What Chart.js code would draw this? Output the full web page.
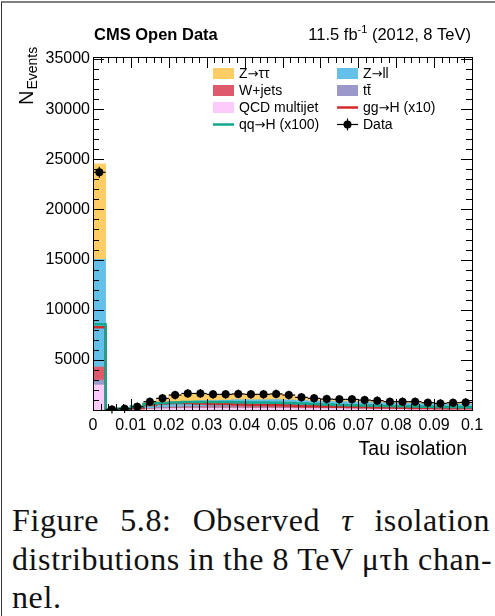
<!DOCTYPE html>
<html>
<head>
<meta charset="utf-8">
<script src="https://cdn.jsdelivr.net/npm/chart.js@4/dist/chart.umd.min.js"></script>
<style>
  html, body { margin: 0; padding: 0; background: #fff; }
  #page { position: relative; width: 495px; height: 616px; overflow: hidden; }
  #box { position: absolute; left: 1px; top: 1px; width: 520px; height: 640px; border-top: 2px solid #808080; border-left: 1px solid #333; }
  #wrap { position: absolute; left: 0; top: 0; width: 495px; height: 480px; }
  .cap { position: absolute; left: 12px; width: 478px; font-family: "Liberation Serif", serif; font-size: 32px; letter-spacing: 0.6px; line-height: 1; white-space: nowrap; color: #111; }
  .just { text-align: justify; text-align-last: justify; }
</style>
</head>
<body>
<div id="page">
  <div id="box"></div>
  <div id="wrap"><canvas id="chart" width="495" height="480"></canvas></div>
  <div class="cap just" style="top:504px">Figure 5.8: Observed <i>τ</i> isolation</div>
  <div class="cap just" style="top:543px">distributions in the 8 TeV μτh chan-</div>
  <div class="cap" style="top:581px">nel.</div>
</div>
<script>
// binning of the tau isolation histogram
const binCount = 30;
const xRange = [0, 0.1];
const xTicks = [0, 0.01, 0.02, 0.03, 0.04, 0.05, 0.06, 0.07, 0.08, 0.09, 0.1];
const yTicks = [5000, 10000, 15000, 20000, 25000, 30000, 35000];
const yMax = 35200;

// observed events per bin
const dataCounts = [23700, 60, 120, 330, 830, 1160, 1490, 1650, 1650, 1560, 1560, 1600, 1560, 1560, 1600,
                    1490, 1260, 1160, 1090, 1060, 1060, 990, 930, 830, 830, 830, 730, 660, 730, 760];

// stacked backgrounds (bottom to top)
const qcd   = [2490, 0, 0, 30, 80, 120, 150, 170, 180, 180, 180, 180, 170, 170, 170,
               160, 150, 150, 140, 140, 130, 130, 120, 120, 110, 110, 100, 100, 100, 100];
const ttbar = [500, 0, 0, 10, 20, 30, 40, 40, 40, 40, 40, 40, 40, 40, 40,
               40, 40, 40, 30, 30, 30, 30, 30, 30, 30, 30, 30, 30, 30, 30];
const wjets = [1300, 0, 0, 20, 60, 80, 100, 110, 110, 110, 110, 110, 110, 110, 110,
               100, 100, 100, 90, 90, 90, 90, 80, 80, 80, 80, 70, 70, 70, 70];
const zll   = [10730, 50, 100, 200, 350, 450, 500, 550, 600, 600, 650, 700, 700, 700, 720,
               700, 650, 600, 600, 580, 560, 540, 500, 460, 450, 440, 400, 380, 380, 380];
const ztt   = [9530, 20, 20, 80, 330, 480, 700, 780, 730, 630, 580, 570, 540, 540, 560,
               490, 320, 270, 230, 220, 250, 200, 200, 140, 160, 170, 130, 80, 150, 180];

// signal overlays (scaled)
const ggH = [8250, 30, 60, 200, 500, 650, 700, 700, 650, 600, 600, 550, 500, 500, 480,
             450, 400, 380, 350, 330, 300, 280, 260, 240, 220, 200, 200, 180, 180, 170];
const qqH = [8550, 100, 150, 350, 600, 700, 750, 800, 800, 800, 800, 780, 760, 740, 720,
             700, 650, 600, 550, 500, 480, 450, 420, 400, 380, 350, 330, 300, 300, 280];

const colors = {
    ztt: '#ffcc66', zll: '#64c0e8', wjets: '#de5a6a', ttbar: '#9b98cc', qcd: '#fccbfc',
    ggH: '#d42a2a', qqH: '#11a88e'
};

const binW = (xRange[1] - xRange[0]) / binCount;
const centers = dataCounts.map((_, i) => xRange[0] + (i + 0.5) * binW);
const edges = [];
for (let i = 0; i <= binCount; i++) edges.push(xRange[0] + i * binW);

const toXY = vals => vals.map((v, i) => ({ x: centers[i], y: v }));
// step outline: one point per bin edge, the last edge repeats the last bin
const toStep = vals => edges.map((e, i) => ({ x: e, y: vals[Math.min(i, vals.length - 1)] }));

function bar(label, vals, color) {
    return {
        type: 'bar', label: label, data: toXY(vals), backgroundColor: color,
        borderWidth: 0, stack: 'mc', order: 3, barPercentage: 1, categoryPercentage: 1
    };
}
function stepLine(label, vals, color, st, order) {
    // 'before' in Chart.js draws the horizontal part first, which is a histogram outline
    return {
        type: 'line', label: label, data: toStep(vals), borderColor: color, borderWidth: 2.5,
        stepped: 'before', pointRadius: 0, fill: false, stack: st, order: order
    };
}

const F = '"Liberation Sans", Arial, sans-serif';

function line(ctx, x1, y1, x2, y2) {
    ctx.beginPath(); ctx.moveTo(x1, y1); ctx.lineTo(x2, y2); ctx.stroke();
}

const rootStyle = {
    id: 'rootStyle',
    afterDatasetDraw(chart, args) {
        if (chart.data.datasets[args.index].label !== 'Data') return;
        const ctx = chart.ctx, xs = chart.scales.x, ys = chart.scales.y;
        ctx.save();
        ctx.strokeStyle = '#000'; ctx.lineWidth = 1.2;
        dataCounts.forEach((n, i) => {
            const y = ys.getPixelForValue(n);
            line(ctx, xs.getPixelForValue(edges[i]), y, xs.getPixelForValue(edges[i + 1]), y);
            const e = Math.sqrt(n);
            line(ctx, xs.getPixelForValue(centers[i]), ys.getPixelForValue(n - e) + 4,
                 xs.getPixelForValue(centers[i]), ys.getPixelForValue(n + e) - 4);
        });
        ctx.restore();
    },
    afterDraw(chart) {
        const ctx = chart.ctx, a = chart.chartArea, xs = chart.scales.x, ys = chart.scales.y;
        ctx.save();
        ctx.strokeStyle = '#000'; ctx.lineWidth = 1;
        // frame
        ctx.strokeRect(Math.round(a.left) + 0.5, Math.round(a.top) + 0.5,
                       Math.round(a.right - a.left), Math.round(a.bottom - a.top));
        // y ticks, inward on both sides
        const yStep = (yTicks[1] - yTicks[0]) / 5;
        for (let k = 0; k * yStep <= yMax; k++) {
            const y = Math.round(ys.getPixelForValue(k * yStep)) + 0.5;
            const len = k % 5 === 0 ? 11 : 6;
            line(ctx, a.left, y, a.left + len, y);
            line(ctx, a.right, y, a.right - len, y);
        }
        // x ticks, inward top and bottom
        const xStep = (xTicks[1] - xTicks[0]) / 5;
        for (let k = 0; k <= 50; k++) {
            const x = Math.round(xs.getPixelForValue(k * xStep)) + 0.5;
            const len = k % 5 === 0 ? 11 : 6;
            line(ctx, x, a.bottom, x, a.bottom - len);
            line(ctx, x, a.top, x, a.top + len);
        }

        ctx.fillStyle = '#000';
        ctx.textBaseline = 'alphabetic';
        // header
        ctx.font = 'bold 16.5px ' + F;
        ctx.textAlign = 'left';
        ctx.fillText('CMS Open Data', 94, 40);
        ctx.font = '16.5px ' + F;
        const t1 = '11.5 fb', t2 = '-1', t3 = ' (2012, 8 TeV)';
        const w3 = ctx.measureText(t3).width, w1 = ctx.measureText(t1).width;
        ctx.font = '11px ' + F;
        const w2 = ctx.measureText(t2).width;
        let x0 = 471 - w3 - w2 - w1;
        ctx.font = '16.5px ' + F;
        ctx.fillText(t1, x0, 40);
        ctx.fillText(t3, x0 + w1 + w2, 40);
        ctx.font = '11px ' + F;
        ctx.fillText(t2, x0 + w1, 33);

        // axis titles
        ctx.font = '19.5px ' + F;
        ctx.textAlign = 'right';
        ctx.fillText('Tau isolation', 467, 455);
        ctx.save();
        ctx.translate(33, 105);
        ctx.rotate(-Math.PI / 2);
        ctx.textAlign = 'left';
        ctx.font = '20px ' + F;
        ctx.fillText('N', 0, 0);
        const wn = ctx.measureText('N').width;
        ctx.font = '14px ' + F;
        ctx.fillText('Events', wn + 1, 4);
        ctx.restore();

        // legend
        const rows = [73.5, 90.5, 107.5, 124.5];
        const cols = [213, 337];
        const entries = [
            [0, 0, 'box', colors.ztt, 'Z\u2192\u03c4\u03c4'],
            [1, 0, 'box', colors.zll, 'Z\u2192ll'],
            [0, 1, 'box', colors.wjets, 'W+jets'],
            [1, 1, 'box', colors.ttbar, 't' + 't\u0304'],
            [0, 2, 'box', colors.qcd, 'QCD multijet'],
            [1, 2, 'line', colors.ggH, 'gg\u2192H (x10)'],
            [0, 3, 'line', colors.qqH, 'qq\u2192H (x100)'],
            [1, 3, 'data', '#000', 'Data']
        ];
        ctx.textAlign = 'left';
        ctx.textBaseline = 'middle';
        entries.forEach(([c, r, kind, col, txt]) => {
            const x = cols[c], y = rows[r];
            if (kind === 'box') {
                ctx.fillStyle = col;
                ctx.fillRect(x, y - 5.5, 21, 11);
            } else if (kind === 'line') {
                ctx.strokeStyle = col; ctx.lineWidth = 2.5;
                line(ctx, x, y, x + 21, y);
            } else {
                ctx.strokeStyle = '#000'; ctx.lineWidth = 1.2;
                line(ctx, x, y, x + 21, y);
                line(ctx, x + 10.5, y - 6, x + 10.5, y + 6);
                ctx.fillStyle = '#000';
                ctx.beginPath(); ctx.arc(x + 10.5, y, 4, 0, Math.PI * 2); ctx.fill();
            }
            ctx.fillStyle = '#000';
            // arrows use DejaVu for a longer glyph, like the ROOT latex arrow
            let tx = x + 26;
            txt.split(/(\u2192)/).forEach(part => {
                if (!part) return;
                ctx.font = part === '\u2192' ? '13px "DejaVu Sans"' : '14px ' + F;
                ctx.fillText(part, tx, y + 1);
                tx += ctx.measureText(part).width;
            });
        });
        ctx.restore();
    }
};

new Chart(document.getElementById('chart'), {
    type: 'bar',
    data: {
        datasets: [
            bar('QCD multijet', qcd, colors.qcd),
            bar('tt', ttbar, colors.ttbar),
            bar('W+jets', wjets, colors.wjets),
            bar('Z->ll', zll, colors.zll),
            bar('Z->tautau', ztt, colors.ztt),
            stepLine('gg->H (x10)', ggH, colors.ggH, 'ggH', 2.5),
            stepLine('qq->H (x100)', qqH, colors.qqH, 'qqH', 2),
            {
                type: 'scatter', label: 'Data', data: toXY(dataCounts), stack: 'data', order: 1,
                pointRadius: 4, pointHoverRadius: 4, backgroundColor: '#000', borderColor: '#000', borderWidth: 0
            }
        ]
    },
    options: {
        responsive: false,
        animation: false,
        layout: { padding: { top: 57, right: 23, bottom: 0, left: 0 } },
        plugins: { legend: { display: false }, tooltip: { enabled: false } },
        scales: {
            x: {
                type: 'linear', min: xRange[0], max: xRange[1], offset: false,
                grid: { display: false, drawTicks: false, offset: false },
                border: { display: false },
                afterBuildTicks: s => { s.ticks = xTicks.map(v => ({ value: v })); },
                afterFit: s => { s.height = 70; },
                ticks: {
                    autoSkip: false, maxRotation: 0, padding: 6, color: '#000',
                    font: { family: F, size: 16 },
                    callback: v => String(+v.toFixed(2))
                }
            },
            y: {
                type: 'linear', min: 0, max: yMax, stacked: true,
                grid: { display: false, drawTicks: false },
                border: { display: false },
                afterBuildTicks: s => { s.ticks = yTicks.map(v => ({ value: v })); },
                afterFit: s => { s.width = 93; },
                ticks: {
                    padding: 3, color: '#000',
                    font: { family: F, size: 16 },
                    callback: v => String(v)
                }
            }
        }
    },
    plugins: [rootStyle]
});
</script>
</body>
</html>
